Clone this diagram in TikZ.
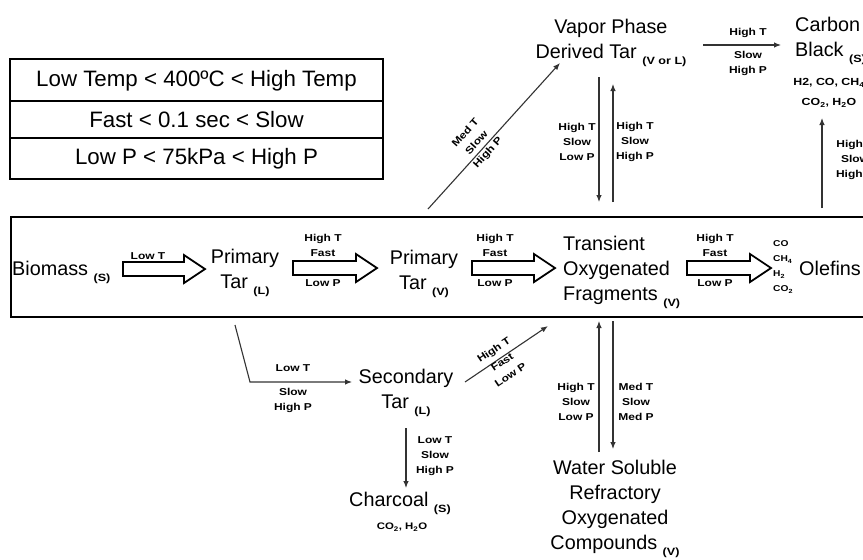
\documentclass[tikz,border=0pt]{standalone}
\usepackage{fontspec}
\setmainfont{Liberation Sans}
\newfontfamily\labfont{Liberation Sans}[FakeStretch=1.2]
\usetikzlibrary{arrows.meta}
\newcommand\phsub[1]{\raisebox{-6pt}{\labfont\bfseries\fontsize{10.5}{12}\selectfont #1}}
\begin{document}
\begin{tikzpicture}[x=1pt,y=-1pt,
  big/.style={font=\fontsize{19.8}{25}\selectfont, align=center, inner sep=0pt},
  leg/.style={font=\fontsize{22.3}{26}\selectfont, inner sep=0pt},
  lab/.style={font=\labfont\bfseries\fontsize{10}{15}\selectfont, align=center, inner sep=0pt},
  conn/.style={draw=black!80, line width=1.1pt, -{Latex[length=7pt,width=5.5pt]}},
  frame/.style={draw, line width=2.2pt},
  pics/blockarr/.style={code={\draw[line width=1.8pt, fill=white, line join=miter] (0,-7) -- ({#1-21},-7) -- ({#1-21},-14) -- (#1,0) -- ({#1-21},14) -- ({#1-21},7) -- (0,7) -- cycle;}}
]
\clip (0,0) rectangle (863,560);
\fill[white] (0,0) rectangle (863,560);

% legend
\draw[frame] (10,59) rectangle (383,179);
\draw[frame] (10,101) -- (383,101) (10,138) -- (383,138);
\node[leg] (l1) at (196.5,81) {Low Temp < 400ºC < High Temp};
\node[leg] (l2) at (196.5,120) {Fast < 0.1 sec < Slow};
\node[leg] (l3) at (196.5,159) {Low P < 75kPa < High P};

% main box
\draw[frame] (11,217) rectangle (900,317);

% main row
\node[big, anchor=base west] (bio) at (12,275) {Biomass \phsub{(S)}};
\pic at (123,269) {blockarr=82};
\node[lab] (c1) at (148,256) {Low T};
\node[big] (pt1) at (245,273) {Primary\\Tar \phsub{(L)}};
\pic at (293,268) {blockarr=84};
\node[lab] (c2a) at (323,245) {High T\\Fast};
\node[lab] (c2b) at (323,283) {Low P};
\node[big] (pt2) at (424,274) {Primary\\Tar \phsub{(V)}};
\pic at (472,268) {blockarr=83};
\node[lab] (c3a) at (495,245) {High T\\Fast};
\node[lab] (c3b) at (495,283) {Low P};
\node[big, anchor=west, align=left] (tof) at (563,272) {Transient\\Oxygenated\\Fragments \phsub{(V)}};
\pic at (687,268) {blockarr=84};
\node[lab] (c4a) at (715,245) {High T\\Fast};
\node[lab] (c4b) at (715,283) {Low P};
\node[lab, anchor=west, align=left, font=\labfont\bfseries\fontsize{8.5}{15}\selectfont] (gas) at (773,267) {CO\\CH\textsubscript{4}\\H\textsubscript{2}\\CO\textsubscript{2}};
\node[big, anchor=west] (ole) at (799,268) {Olefins};

% upper part
\node[big] (vpt) at (611,43) {Vapor Phase\\Derived Tar \phsub{(V or L)}};
\coordinate (d0) at (428,209);
\coordinate (d1) at (560,63);
\draw[conn] (d0) -- (d1);
\node[lab, rotate=48] (cd) at (477,143) {Med T\\Slow\\High P};

\coordinate (v1a) at (599,77);  \coordinate (v1b) at (599,202);
\coordinate (v2a) at (613,202); \coordinate (v2b) at (613,84);
\draw[conn] (v1a) -- (v1b);
\draw[conn] (v2a) -- (v2b);
\node[lab] (cv1) at (577,142) {High T\\Slow\\Low P};
\node[lab] (cv2) at (635,142) {High T\\Slow\\High P};

\coordinate (h0) at (703,45); \coordinate (h1) at (781,45);
\draw[conn] (h0) -- (h1);
\node[lab] (ch1) at (748,33) {High T};
\node[lab] (ch2) at (748,63.5) {Slow\\High P};
\node[big, anchor=west, align=left] (cb) at (795,41) {Carbon\\Black \phsub{(S)}};
\node[lab, font=\labfont\bfseries\fontsize{10.3}{20}\selectfont] (cbg) at (829,93) {H2, CO, CH\textsubscript{4}\\CO\textsubscript{2}, H\textsubscript{2}O};
\coordinate (u0) at (822,208); \coordinate (u1) at (822,118);
\draw[conn] (u0) -- (u1);
\node[lab] (cu) at (855,160) {High T\\Slow\\High P};

% lower part
\coordinate (e0) at (235,325); \coordinate (e1) at (250,382); \coordinate (e2) at (352,382);
\draw[conn] (e0) -- (e1) -- (e2);
\node[lab] (ce1) at (293,368) {Low T};
\node[lab] (ce2) at (293,400) {Slow\\High P};
\node[big] (sec) at (406,393) {Secondary\\Tar \phsub{(L)}};
\coordinate (s0) at (465,382); \coordinate (s1) at (548,326);
\draw[conn] (s0) -- (s1);
\node[lab, rotate=34] (cs) at (502,362) {High T\\Fast\\Low P};
\coordinate (t0) at (406,428); \coordinate (t1) at (406,488);
\draw[conn] (t0) -- (t1);
\node[lab] (ct) at (435,456) {Low T\\Slow\\High P};
\node[big] (char) at (400,503) {Charcoal \phsub{(S)}};
\node[lab, font=\labfont\bfseries\fontsize{9.5}{12}\selectfont] (charg) at (402,527) {CO\textsubscript{2}, H\textsubscript{2}O};

\coordinate (w1a) at (599,452); \coordinate (w1b) at (599,321);
\coordinate (w2a) at (613,321); \coordinate (w2b) at (613,449);
\draw[conn] (w1a) -- (w1b);
\draw[conn] (w2a) -- (w2b);
\node[lab] (cw1) at (576,402) {High T\\Slow\\Low P};
\node[lab] (cw2) at (636,402) {Med T\\Slow\\Med P};
\node[big] (wsr) at (615,509) {Water Soluble\\Refractory\\Oxygenated\\Compounds \phsub{(V)}};
\end{tikzpicture}
\end{document}
